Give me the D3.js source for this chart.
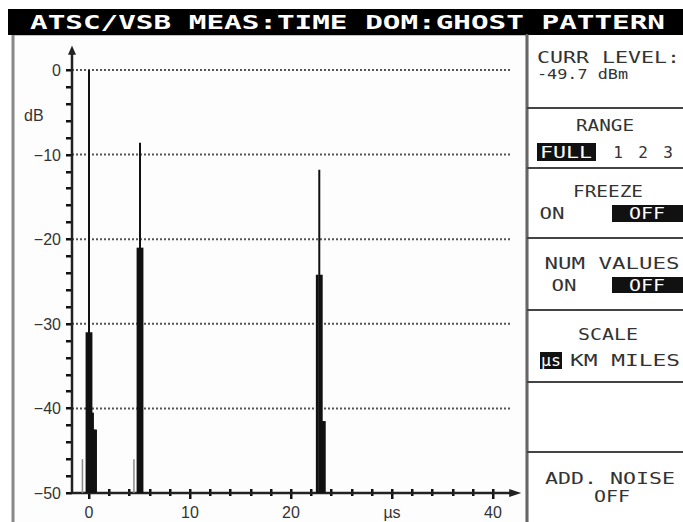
<!DOCTYPE html>
<html>
<head>
<meta charset="utf-8">
<script src="https://cdn.jsdelivr.net/npm/d3@7"></script>
<style>
  body { margin: 0; background: #fff; }
  svg { display: block; }
  .mono { font-family: "DejaVu Sans Mono", "Liberation Mono", monospace; }
  .lbl { font-family: "Liberation Sans", Arial, sans-serif; font-size: 16px; fill: #333; }
</style>
</head>
<body>
<div id="chart"></div>
<script>
// ghost pattern taps (time in µs, level in dB)
const tapTimes  = [-0.65, -0.2, 0, 0.2, 0.35, 0.5, 0.65, 4.45, 4.85, 5.05, 5.25, 22.6, 22.8, 23.0, 23.15, 23.3];
const tapLevels = [-46, -31, 0, -31, -40.5, -42.5, -42.5, -46, -21, -8.6, -21, -24.2, -11.8, -24.2, -41.5, -41.5];
const yTickLabels = [0, -10, -20, -30, -40, -50];
const xTickLabels = [0, 10, 20, 40];
const gridLevels = [0, -10, -20, -30, -40];
const title = 'ATSC/VSB MEAS:TIME DOM:GHOST PATTERN';

const W = 683, H = 522;
const svg = d3.select('#chart').append('svg').attr('width', W).attr('height', H);

let x = d3.scaleLinear().domain([0, 40]).range([89, 493]),
	y = d3.scaleLinear().domain([-50, 0]).range([493, 70]);
const x0 = Math.round(x(-1.7)), yBase = y(-50);

// frame
svg.append('rect').attr('x', 13).attr('y', 34).attr('width', 514).attr('height', 490)
	.attr('fill', '#fdfdfd').attr('stroke', '#888').attr('stroke-width', 3);

// title bar
svg.append('rect').attr('x', 8).attr('y', 9).attr('width', W - 8).attr('height', 26).attr('fill', '#000');
svg.append('text').attr('class', 'mono')
	.attr('x', 30).attr('y', 29)
	.attr('textLength', 635).attr('lengthAdjust', 'spacingAndGlyphs')
	.style('font-size', '19px').style('font-weight', 'bold').style('fill', '#fff')
	.text(title);

// grid
svg.append('g').selectAll('line').data(gridLevels).enter().append('line')
	.attr('x1', x0).attr('x2', x(41.8))
	.attr('y1', d => y(d)).attr('y2', d => y(d))
	.attr('stroke', '#555').attr('stroke-width', 2).attr('stroke-dasharray', '2,2');

// y axis: minor ticks every 2 dB on the left side
svg.append('g').attr('class', 'yticks').selectAll('rect').data(d3.range(-50, 1, 2)).enter().append('rect')
	.attr('x', x0 - 6).attr('width', 6)
	.attr('y', d => Math.round(y(d)) - 1).attr('height', 2.5)
	.attr('fill', '#111');
svg.append('line').attr('x1', x0).attr('x2', x0)
	.attr('y1', yBase).attr('y2', y(2.2)).attr('stroke', '#222').attr('stroke-width', 2.5);
svg.append('path')
	.attr('d', `M${x0 - 4},${y(1.8)} L${x0},${y(2.9)} L${x0 + 4},${y(1.8)} Z`)
	.attr('fill', '#222');

// x axis: ticks every 2 µs across the line
svg.append('g').attr('class', 'xticks').selectAll('rect').data(d3.range(0, 41, 2)).enter().append('rect')
	.attr('x', d => Math.round(x(d)) - 1).attr('width', 2.5)
	.attr('y', yBase - 4).attr('height', d => d % 10 === 0 ? 10 : 7)
	.attr('fill', '#111');
svg.append('line').attr('x1', x0).attr('x2', x(42))
	.attr('y1', yBase).attr('y2', yBase).attr('stroke', '#222').attr('stroke-width', 2.5);
svg.append('path')
	.attr('d', `M${x(41.6)},${yBase - 4} L${x(42.8)},${yBase} L${x(41.6)},${yBase + 4} Z`)
	.attr('fill', '#222');

// tick labels
svg.append('g').selectAll('text').data(yTickLabels).enter().append('text')
	.attr('class', 'lbl').attr('x', 61).attr('y', d => y(d) + 6)
	.attr('text-anchor', 'end').text(d => d === 0 ? '0' : '\u2212' + Math.abs(d));
svg.append('text').attr('class', 'lbl').attr('x', 24).attr('y', 121).text('dB');
svg.append('g').selectAll('text').data(xTickLabels).enter().append('text')
	.attr('class', 'lbl').attr('x', d => x(d)).attr('y', 518)
	.attr('text-anchor', 'middle').text(d => d);
svg.append('text').attr('class', 'lbl').attr('x', x(30)).attr('y', 518)
	.attr('text-anchor', 'middle').text('\u00b5s');

// taps
let taps = tapTimes.map((t, i) => ({t: t, v: tapLevels[i]}));
svg.append('g').selectAll('line').data(taps).enter().append('line')
	.attr('x1', d => x(d.t)).attr('x2', d => x(d.t))
	.attr('y1', yBase).attr('y2', d => y(d.v))
	.attr('stroke', d => d.v <= -45 ? '#888' : '#111')
	.attr('stroke-width', d => d.v <= -45 ? 1.5 : (d.v > -15 ? 2 : 2.8));

// side panel
let panel = svg.append('g');
panel.append('line').attr('x1', 527).attr('x2', 527).attr('y1', 34).attr('y2', H)
	.attr('stroke', '#666').attr('stroke-width', 2.5);
[108, 168, 238, 310, 382, 452].forEach(yy => {
	panel.append('line').attr('x1', 527).attr('x2', W).attr('y1', yy).attr('y2', yy)
		.attr('stroke', '#444').attr('stroke-width', 2);
});

function ptext(str, xx, yy, len, anchor, fill, size) {
	let t = panel.append('text').attr('class', 'mono')
		.attr('x', xx).attr('y', yy)
		.attr('text-anchor', anchor || 'start')
		.style('font-size', (size || 16) + 'px').style('fill', fill || '#333')
		.text(str);
	if (len) t.attr('textLength', len).attr('lengthAdjust', 'spacingAndGlyphs');
	return t;
}
function hbox(bx, by, w, h) {
	panel.append('rect').attr('x', bx).attr('y', by).attr('width', w).attr('height', h).attr('fill', '#111');
}

ptext('CURR LEVEL:', 537, 63, 143, null, null, 15);
ptext('-49.7 dBm', 537, 79, 91, null, null, 14);

ptext('RANGE', 605, 131, 58, 'middle');
hbox(537, 143, 59, 18);
ptext('FULL', 566, 158, 52, 'middle', '#fff');
ptext('1', 618, 158, null, 'middle');
ptext('2', 643, 158, null, 'middle');
ptext('3', 668, 158, null, 'middle');

ptext('FREEZE', 608, 197, 70, 'middle');
ptext('ON', 552, 219, 25, 'middle');
hbox(612, 205, 71, 17);
ptext('OFF', 647, 219, 36, 'middle', '#fff');

ptext('NUM VALUES', 612, 269, 135, 'middle');
ptext('ON', 564, 291, 25, 'middle');
hbox(612, 277, 71, 16);
ptext('OFF', 647, 291, 36, 'middle', '#fff');

ptext('SCALE', 608, 340, 60, 'middle');
hbox(540, 352, 22, 17);
ptext('\u00b5s', 551, 366, 20, 'middle', '#fff');
ptext('KM MILES', 570, 366, 110);

ptext('ADD. NOISE', 610, 484, 130, 'middle');
ptext('OFF', 612, 502, 36, 'middle');
</script>
</body>
</html>
